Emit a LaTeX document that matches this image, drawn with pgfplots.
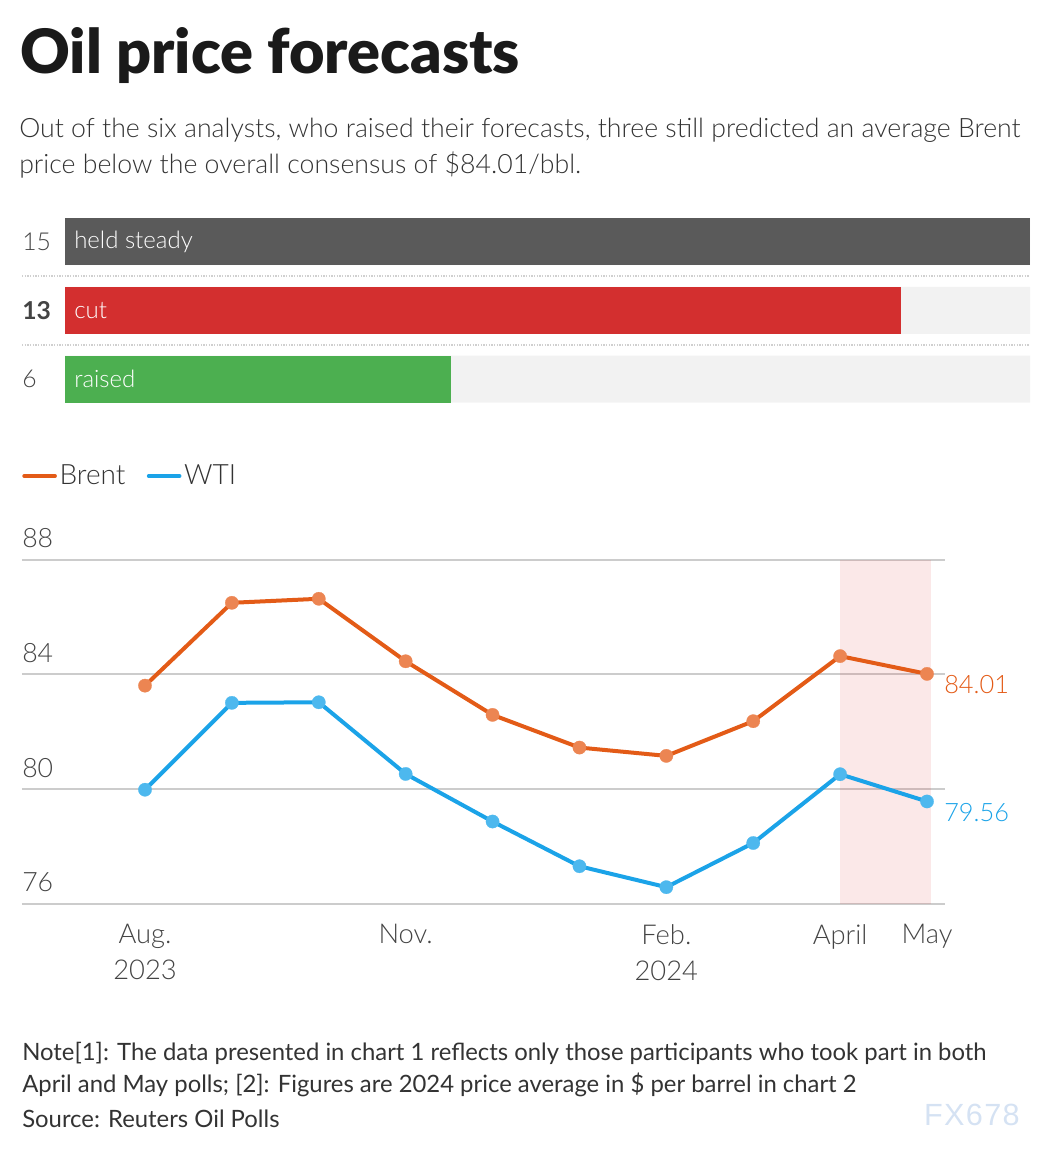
\documentclass[border=0pt]{standalone}
\usepackage{fontspec}
\setmainfont{Lato}
\newfontfamily\lightfont{Lato Light}
\newfontfamily\blackfont{Lato Black}
\newfontfamily\boldfont{Lato Bold}
\newfontfamily\wmfont{Liberation Sans}
\usepackage{pgfplots}
\pgfplotsset{compat=1.18}
\definecolor{titlec}{HTML}{1A1A1A}
\definecolor{subc}{HTML}{333333}
\definecolor{tickc}{HTML}{444444}
\definecolor{steadyc}{HTML}{5A5A5A}
\definecolor{cutc}{HTML}{D32F2F}
\definecolor{raisedc}{HTML}{4CAF50}
\definecolor{bgc}{HTML}{F2F2F2}
\definecolor{brent}{HTML}{E35B17}
\definecolor{brentm}{HTML}{EC8552}
\definecolor{wti}{HTML}{1BA3E8}
\definecolor{wtim}{HTML}{4DB8EE}
\definecolor{bandc}{HTML}{E04040}
\definecolor{gridc}{HTML}{CCCCCC}
\definecolor{sepc}{HTML}{D0D0D0}
\definecolor{wmc}{HTML}{D5E2F3}
\begin{document}
\begin{tikzpicture}
\useasboundingbox (0pt,0pt) rectangle (787.5pt,-862.5pt);
% title and subtitle
\node[anchor=base west,inner sep=0,text=titlec] at (15pt,-54.75pt) {\fontsize{45.9}{46}\selectfont\blackfont Oil price forecasts};
\node[anchor=base west,inner sep=0,text=subc] at (14.25pt,-102.75pt) {\fontsize{20}{27}\selectfont\lightfont Out of the six analysts, who raised their forecasts, three still predicted an average Brent};
\node[anchor=base west,inner sep=0,text=subc] at (14.25pt,-129.75pt) {\fontsize{20}{27}\selectfont\lightfont price below the overall consensus of \$84.01/bbl.};
% separators
\draw[sepc, line width=1pt, dash pattern=on 1pt off 1pt] (16.5pt,-207pt) -- (772.5pt,-207pt);
\draw[sepc, line width=1pt, dash pattern=on 1pt off 1pt] (16.5pt,-258.75pt) -- (772.5pt,-258.75pt);
% bar chart
\begin{axis}[at={(48.75pt,-310.05pt)}, anchor=south west, scale only axis,
  width=723.75pt, height=154.7pt,
  xmin=0, xmax=15, ymin=0.5, ymax=3.5,
  xbar, bar width=35.25pt, bar shift=0pt,
  axis line style={draw=none}, major tick length=0pt,
  xtick=\empty, ytick={1,2,3}, yticklabels={6,{\boldfont 13},15},
  yticklabel style={anchor=west, inner sep=0pt, xshift=-32.25pt, text=tickc,
    font=\fontsize{18.5}{24}\selectfont\lightfont},
  clip=false]
\addplot[fill=bgc, draw=none] coordinates {(15,1) (15,2) (15,3)};
\addplot[fill=steadyc, draw=none] coordinates {(15,3)};
\addplot[fill=cutc, draw=none] coordinates {(13,2)};
\addplot[fill=raisedc, draw=none] coordinates {(6,1)};
\node[anchor=west, inner sep=0, text=white, xshift=6.75pt, font=\fontsize{18}{24}\selectfont\lightfont] at (axis cs:0,3) {held steady};
\node[anchor=west, inner sep=0, text=white, xshift=6.75pt, font=\fontsize{18}{24}\selectfont\lightfont] at (axis cs:0,2) {cut};
\node[anchor=west, inner sep=0, text=white, xshift=6.75pt, font=\fontsize{18}{24}\selectfont\lightfont] at (axis cs:0,1) {raised};
\end{axis}
% line chart
\begin{axis}[at={(16.5pt,-677.625pt)}, anchor=south west, scale only axis,
  width=692.25pt, height=258pt,
  xmin=-1.4156, xmax=9.207, ymin=76, ymax=88,
  axis line style={draw=none}, major tick length=0pt,
  ytick={76,80,84,88}, ymajorgrids, grid style={draw=gridc, line width=1.5pt},
  xtick={0,3,6,8,9}, xticklabels={{Aug.\\2023},Nov.,{Feb.\\2024},April,May},
  xticklabel style={align=center, anchor=north, inner sep=0pt, yshift=-15.5pt, text=tickc,
    font=\fontsize{20.5}{27}\selectfont\lightfont},
  yticklabel style={anchor=south west, inner sep=0pt, yshift=8.5pt, text=tickc,
    font=\fontsize{20}{27}\selectfont\lightfont},
  /pgf/number format/assume math mode=true,
  clip=false,
  legend style={at={(0,1.2427)}, anchor=west, draw=none, fill=none, inner sep=0pt,
    font=\fontsize{21}{24}\selectfont\lightfont, text=subc,
    /tikz/every even column/.append style={column sep=14pt}},
  legend columns=2, legend cell align=left,
  legend image code/.code={\draw[line width=3pt, line cap=round] (0pt,0pt) -- (23pt,0pt);}]
\fill[bandc, fill opacity=0.12] (axis cs:8,76) rectangle (axis cs:9.046,88);
\addplot[brent, line width=3pt, line join=round, mark=*, mark size=5pt,
  mark options={fill=brentm, draw=brentm, line width=0.2pt}]
  coordinates {(0,83.60) (1,86.49) (2,86.63) (3,84.45) (4,82.58) (5,81.44) (6,81.15) (7,82.36) (8,84.63) (9,84.01)};
\addlegendentry{Brent}
\addplot[wti, line width=3pt, line join=round, mark=*, mark size=5pt,
  mark options={fill=wtim, draw=wtim, line width=0.2pt}]
  coordinates {(0,79.97) (1,83.00) (2,83.02) (3,80.52) (4,78.86) (5,77.30) (6,76.57) (7,78.11) (8,80.51) (9,79.56)};
\addlegendentry{WTI}
\node[anchor=west, inner sep=0, text=brent, xshift=12.75pt, yshift=-8pt, font=\fontsize{19}{24}\selectfont\lightfont] at (axis cs:9,84.01) {84.01};
\node[anchor=west, inner sep=0, text=wti, xshift=12.75pt, yshift=-8pt, font=\fontsize{19}{24}\selectfont\lightfont] at (axis cs:9,79.56) {79.56};
\end{axis}
% notes
\node[anchor=base west,inner sep=0,text=subc] at (16.5pt,-795pt) {\fontsize{17.9}{24}\selectfont Note[1]: The data presented in chart 1 reflects only those participants who took part in both};
\node[anchor=base west,inner sep=0,text=subc] at (16.5pt,-819pt) {\fontsize{17.9}{24}\selectfont April and May polls; [2]: Figures are 2024 price average in \$ per barrel in chart 2};
\node[anchor=base west,inner sep=0,text=subc] at (16.5pt,-845.25pt) {\fontsize{17.9}{24}\selectfont Source: Reuters Oil Polls};
\node[anchor=base east,inner sep=0,text=wmc] at (765pt,-843.75pt) {\fontsize{23}{23}\selectfont\wmfont F\kern1pt X\kern1pt 6\kern1pt 7\kern1pt 8};
\end{tikzpicture}
\end{document}
